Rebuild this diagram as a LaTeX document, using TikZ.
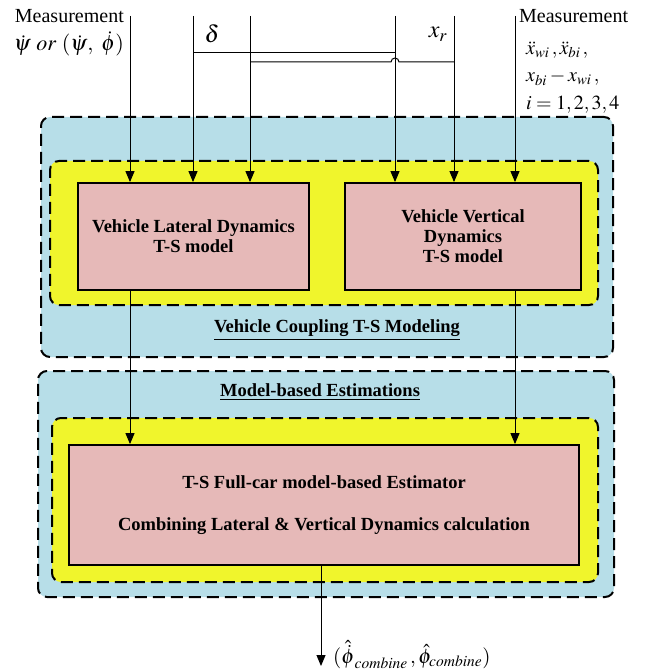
\documentclass[tikz,border=0pt]{standalone}
\usepackage{mathptmx}
\usepackage{fontspec}
\setmainfont{Liberation Serif}
\usetikzlibrary{arrows.meta}
\definecolor{bluebg}{RGB}{183,222,232}
\definecolor{yellowbg}{RGB}{240,245,44}
\definecolor{pinkbg}{RGB}{230,185,184}
\tikzset{
  group/.style={draw=black, line width=2pt, dash pattern=on 12pt off 6pt, rounded corners=9pt, inner sep=0pt},
  bluegroup/.style={group, fill=bluebg},
  yellowgroup/.style={group, fill=yellowbg},
  model/.style={draw=black, line width=1.8pt, fill=pinkbg, align=center, inner sep=0pt,
    font=\bfseries\fontsize{18.5}{20}\selectfont},
  title/.style={font=\bfseries\fontsize{18.5}{20}\selectfont},
  wire/.style={line width=1pt},
  arr/.style={wire, -{Triangle[length=11pt,width=9pt]}},
  lbl/.style={inner sep=0pt, font=\fontsize{20}{23}\selectfont},
}
\begin{document}
\begin{tikzpicture}[x=1pt,y=-1pt]
\useasboundingbox (0,0) rectangle (645,671);
% groups
\node[bluegroup, minimum width=572pt, minimum height=240pt] (blue1) at (327,237) {};
\node[yellowgroup, minimum width=548pt, minimum height=144pt] (yel1) at (324,233) {};
\node[bluegroup, minimum width=576pt, minimum height=226pt] (blue2) at (326,484) {};
\node[yellowgroup, minimum width=546pt, minimum height=164pt] (yel2) at (325,500) {};
% models
\node[model, minimum width=231pt, minimum height=107pt] (lat) at (193.5,236.5) {Vehicle Lateral Dynamics\\T-S model};
\node[model, minimum width=236pt, minimum height=107pt] (ver) at (463,236.5) {Vehicle Vertical\\Dynamics\\T-S model};
\node[model, minimum width=510pt, minimum height=120pt] (est) at (324,505) {T-S Full-car model-based Estimator\\[22pt]Combining Lateral \& Vertical Dynamics calculation};
% titles
\node[title] (t1) at (337,330) {\underline{Vehicle Coupling T-S Modeling}};
\node[title] (t2) at (320,392) {\underline{Model-based Estimations}};
% top wire starts
\coordinate (w1) at (130,16);
\coordinate (w2) at (193,16);
\coordinate (w3) at (250,16);
\coordinate (w4) at (395,16);
\coordinate (w5) at (454,16);
\coordinate (w6) at (515,16);
% top labels
\node[lbl, anchor=east] (m1) at (124,16) {Measurement};
\node[lbl, anchor=east, font=\fontsize{22}{24}\selectfont] (m1b) at (124,44) {$\dot{\psi}\ or\ (\dot{\psi},\ \dot{\phi})$};
\node[lbl, font=\fontsize{24}{26}\selectfont] (delta) at (212,34) {$\delta$};
\node[lbl, font=\fontsize{24}{26}\selectfont] (xr) at (438,34) {$x_r$};
\node[lbl, anchor=west] (m2) at (519,16) {Measurement};
\node[lbl, anchor=west] (m2b) at (526,50) {$\ddot{x}_{wi}\,,\ddot{x}_{bi}\,,$};
\node[lbl, anchor=west] (m2c) at (526,78) {$x_{bi}-x_{wi}\,,$};
\node[lbl, anchor=west] (m2d) at (526,105) {$i=1,2,3,4$};
% input arrows
\draw[arr] (w1) -- (w1 |- lat.north);
\draw[arr] (w2) -- (w2 |- lat.north);
\draw[arr] (w3) -- (w3 |- lat.north);
\draw[arr] (w4) -- (w4 |- ver.north);
\draw[arr] (w5) -- (w5 |- ver.north);
\draw[arr] (w6) -- (w6 |- ver.north);
% cross connections
\coordinate (j1) at (193,53);
\coordinate (j2) at (395,53);
\coordinate (j3) at (250,62);
\coordinate (j4) at (454,62);
\draw[wire] (j1) -- (j2);
\draw[wire] (j3) -- (391,62) arc[start angle=180, end angle=0, radius=4pt] -- (j4);
% to estimator
\draw[arr] (lat.south -| w1) -- (est.north -| w1);
\draw[arr] (ver.south -| w6) -- (est.north -| w6);
% output
\coordinate (out) at (321,666);
\draw[arr] (est.south -| out) -- (out);
\node[lbl, anchor=west, font=\fontsize{21}{24}\selectfont] (outl) at (333,655) {$(\hat{\dot{\phi}}_{combine}\,,\hat{\phi}_{combine})$};
\end{tikzpicture}
\end{document}
